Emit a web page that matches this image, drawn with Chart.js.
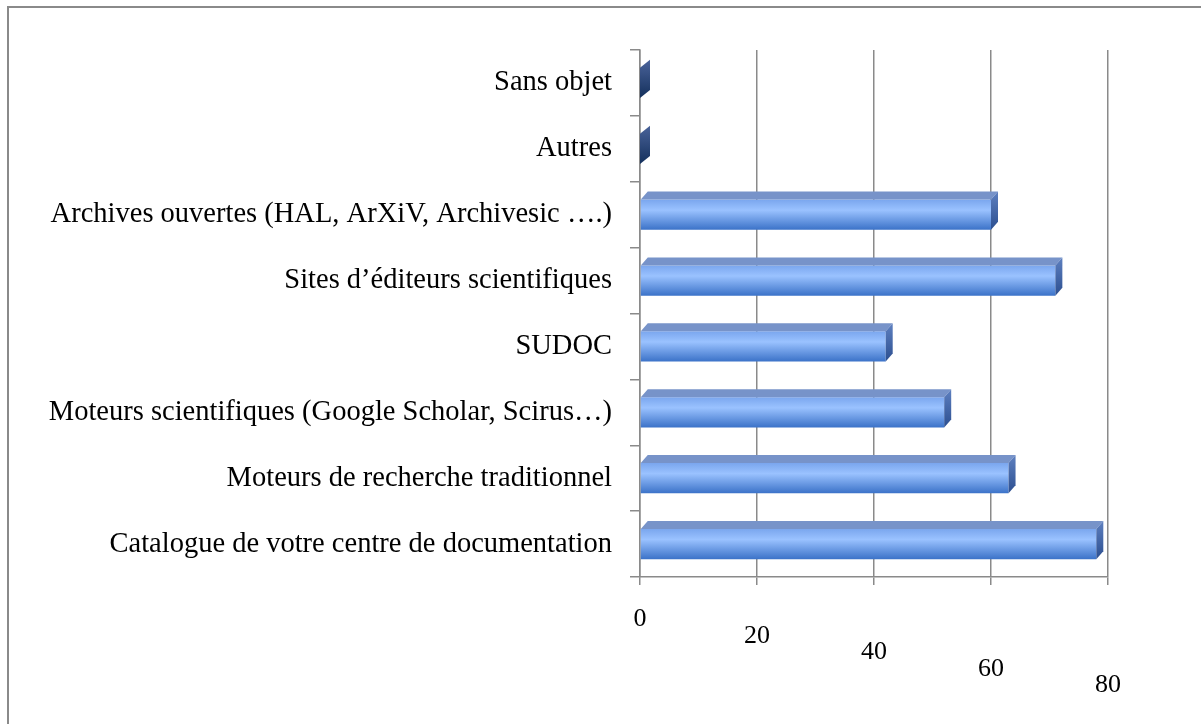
<!DOCTYPE html>
<html><head><meta charset="utf-8">
<script src="https://cdn.jsdelivr.net/npm/chart.js@4/dist/chart.umd.min.js"></script>
<style>
html,body{margin:0;padding:0;background:#fff;overflow:hidden}
#wrap{position:relative;width:1201px;height:724px;overflow:hidden}
#frame{position:absolute;left:7px;top:6px;width:1300px;height:800px;border-left:2px solid #8a8a8a;border-top:2px solid #8a8a8a;box-sizing:border-box}
canvas{position:absolute;left:0;top:0}
</style></head><body>
<div id="wrap"><div id="frame"></div><canvas id="c" width="1201" height="724"></canvas></div>
<script>
const categories = [
  'Sans objet',
  'Autres',
  'Archives ouvertes (HAL, ArXiV, Archivesic ….)',
  'Sites d’éditeurs scientifiques',
  'SUDOC',
  'Moteurs scientifiques (Google Scholar, Scirus…)',
  'Moteurs de recherche traditionnel',
  'Catalogue de votre centre de documentation'
];
const values = [0, 0, 60, 71, 42, 52, 63, 78];
const xTickLabels = ['0', '20', '40', '60', '80'];

const BAR_PCT = 0.46;
const GRID = '#8a8a8a';

function frontGradient(ctx) {
  const chart = ctx.chart;
  const ys = chart.scales.y;
  if (!chart.chartArea || !ys) return '#8ab4f8';
  const cy = ys.getPixelForValue(ctx.dataIndex);
  const h = (ys.height / categories.length) * BAR_PCT;
  const g = chart.ctx.createLinearGradient(0, cy - h / 2, 0, cy + h / 2);
  g.addColorStop(0, '#7aa6ee');
  g.addColorStop(0.35, '#9ac2ff');
  g.addColorStop(1, '#3b72c8');
  return g;
}

const bar3d = {
  id: 'bar3d',
  afterDatasetsDraw(chart) {
    const ctx = chart.ctx;
    const meta = chart.getDatasetMeta(0);
    ctx.save();
    meta.data.forEach((bar) => {
      const p = bar.getProps(['x', 'y', 'base', 'height'], true);
      const top = p.y - p.height / 2, bot = p.y + p.height / 2;
      const x = p.x, base = p.base;
      const zero = (x - base) <= 1;
      const dx = zero ? 10 : 7, dy = 8;
      if (!zero) {
        ctx.fillStyle = '#7793c9';
        ctx.beginPath();
        ctx.moveTo(base, top);
        ctx.lineTo(base + dx, top - dy);
        ctx.lineTo(x + dx, top - dy);
        ctx.lineTo(x, top);
        ctx.closePath();
        ctx.fill();
      }
      const g = ctx.createLinearGradient(0, top - dy, 0, bot);
      g.addColorStop(0, zero ? '#4a639a' : '#5e80c0');
      g.addColorStop(1, zero ? '#14305c' : '#2c4f90');
      ctx.fillStyle = g;
      ctx.beginPath();
      ctx.moveTo(x, top);
      ctx.lineTo(x + dx, top - dy);
      ctx.lineTo(x + dx, bot - dy);
      ctx.lineTo(x, bot);
      ctx.closePath();
      ctx.fill();
    });
    ctx.restore();
  }
};

new Chart(document.getElementById('c'), {
  type: 'bar',
  data: {
    labels: categories,
    datasets: [{
      data: values,
      backgroundColor: frontGradient,
      borderWidth: 0,
      barPercentage: BAR_PCT,
      categoryPercentage: 1
    }]
  },
  options: {
    indexAxis: 'y',
    responsive: false,
    animation: false,
    events: [],
    layout: { padding: { top: 50, right: 93, left: 0, bottom: 0 } },
    plugins: { legend: { display: false }, tooltip: { enabled: false } },
    scales: {
      x: {
        min: 0, max: 80,
        afterFit(s) { s.height = 147; },
        ticks: {
          stepSize: 20,
          padding: 26,
          color: '#000',
          font: { family: 'Liberation Serif', size: 26, lineHeight: 0.635 },
          maxRotation: 0,
          autoSkip: false,
          callback(v, i) { return Array(i).fill('').concat([xTickLabels[i]]); }
        },
        grid: { color: GRID, lineWidth: 1.5, tickLength: 8, drawTicks: true },
        border: { color: GRID, width: 1.5 }
      },
      y: {
        afterFit(s) { s.width = 640; },
        ticks: {
          color: '#000',
          padding: 18,
          autoSkip: false,
          font: { family: 'Liberation Serif', size: 28.5 }
        },
        grid: { display: true, drawOnChartArea: false, drawTicks: true, tickLength: 10, color: GRID, lineWidth: 1.5, offset: true },
        border: { color: GRID, width: 1.5 }
      }
    }
  },
  plugins: [bar3d]
});
</script>
</body></html>
